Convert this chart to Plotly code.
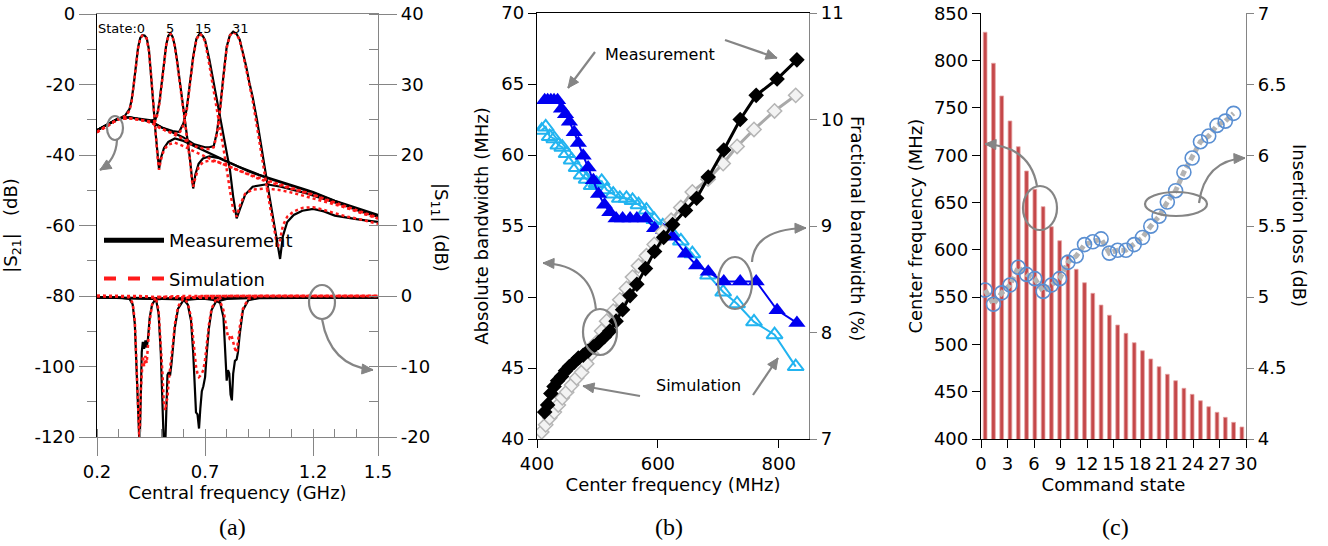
import math
import plotly.graph_objects as go

# ---------------- Panel (a): |S21| (left axis) ----------------
freq_st0 = [0.20,0.25,0.30,0.33,0.35,0.36,0.37,0.38,0.39,0.40,0.41,0.42,0.43,0.44,0.45,0.46,0.47,0.48,0.487,0.495,0.51,0.53,0.56,
            0.60,0.65,0.70,0.75,0.80,0.85,0.90,0.95,1.00,1.05,1.10,1.15,1.20,1.25,1.30,1.35,1.40,1.45,1.50]
s21_meas_st0 = [-33.0,-31.4,-29.6,-28.8,-27.0,-24.5,-20.0,-14.5,-9.5,-6.8,-6.0,-6.1,-6.8,-10.0,-16.5,-25.0,-33.0,-40.0,-44.0,-41.0,-38.0,-36.3,-35.3,
                -36.0,-37.5,-39.0,-40.3,-41.8,-43.2,-44.5,-45.6,-46.6,-47.5,-48.5,-49.5,-50.5,-51.8,-53.0,-54.0,-55.0,-56.0,-57.0]
s21_sim_st0 = [-33.5,-31.6,-29.8,-29.0,-27.5,-25.0,-20.5,-15.0,-9.8,-7.0,-6.1,-6.2,-7.0,-10.5,-17.0,-25.5,-33.5,-40.5,-44.2,-41.5,-38.5,-37.0,-36.5,
               -37.5,-39.0,-40.5,-41.8,-43.0,-44.3,-45.4,-46.5,-47.4,-48.3,-49.2,-50.2,-51.2,-52.4,-53.5,-54.5,-55.6,-56.6,-57.8]

freq_st5 = [0.20,0.25,0.30,0.35,0.40,0.45,
            0.47,0.48,0.49,0.50,0.51,0.52,0.53,0.54,0.55,0.56,0.57,0.58,0.59,0.60,0.61,0.62,0.63,0.64,
            0.645,0.655,0.67,0.69,0.72,0.76,
            0.80,0.85,0.90,0.95,1.00,1.05,1.10,1.15,1.20,1.25,1.30,1.35,1.40,1.45,1.50]
s21_meas_st5 = [-33.0,-31.4,-29.6,-29.3,-29.8,-30.2,
                -30.0,-28.0,-24.5,-19.0,-13.0,-8.8,-6.2,-5.5,-6.5,-9.0,-13.0,-17.5,-21.5,-26.0,-30.5,-35.5,-41.0,-47.0,
                -49.5,-45.5,-42.5,-41.0,-40.4,-40.8,
                -41.8,-43.2,-44.6,-45.8,-46.8,-47.8,-48.7,-49.7,-50.7,-51.9,-53.1,-54.2,-55.3,-56.3,-57.3]
s21_sim_st5 = [-33.5,-31.6,-29.8,-29.6,-30.0,-30.5,
               -30.3,-28.5,-25.0,-19.5,-13.5,-9.0,-6.3,-5.6,-6.6,-9.2,-13.5,-18.0,-22.0,-26.5,-31.0,-36.0,-41.5,-47.5,
               -49.0,-46.5,-43.5,-42.0,-41.6,-42.0,
               -43.0,-44.4,-45.6,-46.8,-47.8,-48.7,-49.5,-50.4,-51.4,-52.6,-53.8,-54.9,-56.0,-57.0,-58.0]

freq_st15 = [0.20,0.25,0.30,0.35,0.40,0.45,0.50,0.55,0.58,0.60,0.615,0.63,0.645,0.66,0.676,0.69,0.70,0.72,0.745,0.77,0.79,0.815,0.83,0.846,
             0.86,0.885,0.92,0.985,1.05,1.11,1.17,1.23,1.29,1.35,1.42,1.50]
s21_meas_st15 = [-33.0,-31.4,-29.6,-29.3,-29.8,-30.5,-32.2,-33.2,-33.5,-31.0,-27.0,-19.7,-12.1,-7.0,-5.5,-6.3,-7.4,-13.0,-21.0,-29.1,-35.5,-44.2,-51.8,-58.0,
                 -55.6,-51.3,-49.0,-48.3,-49.0,-49.9,-50.9,-52.1,-53.2,-54.4,-56.0,-57.5]
s21_sim_st15 = [-33.5,-31.6,-29.8,-29.6,-30.0,-30.8,-32.6,-33.8,-34.0,-31.5,-27.5,-20.0,-12.5,-7.2,-5.6,-6.5,-7.8,-14.5,-23.5,-32.0,-40.0,-50.0,-55.5,-57.5,
                -54.5,-51.0,-49.8,-49.5,-50.0,-50.8,-51.8,-52.8,-53.8,-54.9,-56.3,-58.0]

freq_st31 = [0.20,0.25,0.30,0.35,0.40,0.45,0.50,0.55,0.60,0.65,0.70,
             0.72,0.74,0.755,0.77,0.785,0.80,0.815,0.83,0.845,0.86,0.875,0.89,0.905,0.92,0.94,0.96,0.98,1.00,1.02,1.035,1.047,
             1.06,1.08,1.11,1.15,1.20,1.25,1.30,1.35,1.40,1.45,1.50]
s21_meas_st31 = [-33.0,-31.4,-29.6,-29.3,-29.8,-30.5,-32.2,-33.5,-35.0,-37.0,-37.8,
                 -37.8,-37.5,-33.5,-26.5,-17.5,-9.3,-6.0,-5.0,-5.6,-7.2,-11.0,-14.8,-19.5,-23.5,-30.0,-37.0,-45.0,-52.5,-60.0,-65.5,-69.5,
                 -63.0,-59.0,-57.0,-55.8,-55.3,-56.0,-57.2,-57.8,-58.2,-58.6,-59.0]
s21_sim_st31 = [-33.5,-31.6,-29.8,-29.6,-30.0,-30.8,-32.6,-34.0,-35.5,-37.5,-38.3,
                -38.3,-37.8,-34.0,-27.0,-18.0,-9.6,-6.1,-5.1,-5.7,-7.4,-11.3,-15.2,-20.0,-24.5,-32.0,-40.0,-48.0,-54.5,-61.0,-66.3,-64.0,
                -60.0,-57.5,-56.0,-55.0,-54.8,-55.6,-56.6,-57.4,-58.0,-58.8,-59.5]

# ---------------- Panel (a): |S11| (right axis) ----------------
s11_freq_st0 = [0.20,0.30,0.35,0.365,0.375,0.385,0.392,0.397,0.402,0.407,0.412,0.418,0.424,0.430,0.436,0.444,0.455,0.47,0.50,0.60,0.80,1.00,1.20,1.50]
s11_meas_st0 = [-0.2,-0.2,-0.4,-1.2,-4.0,-11.0,-18.0,-21.5,-15.0,-8.0,-6.5,-7.5,-6.3,-7.3,-6.0,-3.0,-1.2,-0.5,-0.4,-0.3,-0.2,-0.2,-0.2,-0.2]
s11_sim_st0 = [0.0,0.0,-0.2,-1.0,-3.5,-10.5,-17.5,-21.0,-14.0,-10.0,-8.5,-10.0,-8.5,-9.5,-7.0,-3.5,-1.2,-0.3,-0.1,0.0,0.0,0.0,0.0,0.0]

s11_freq_st5 = [0.20,0.40,0.46,0.475,0.485,0.495,0.503,0.509,0.516,0.521,0.526,0.532,0.538,0.545,0.552,0.56,0.575,0.60,0.70,1.00,1.50]
s11_meas_st5 = [-0.2,-0.3,-0.4,-0.8,-2.5,-8.0,-16.0,-21.0,-21.0,-14.0,-11.2,-10.8,-11.3,-9.5,-7.0,-4.5,-1.8,-0.6,-0.3,-0.2,-0.2]
s11_sim_st5 = [0.0,0.0,-0.2,-0.6,-2.0,-6.5,-11.0,-15.0,-16.2,-15.0,-14.5,-12.0,-10.5,-9.0,-6.5,-4.0,-1.5,-0.3,0.0,0.0,0.0]

s11_freq_st15 = [0.20,0.55,0.60,0.62,0.635,0.645,0.652,0.658,0.665,0.672,0.678,0.685,0.692,0.70,0.708,0.718,0.73,0.75,0.80,1.00,1.50]
s11_meas_st15 = [-0.2,-0.4,-0.5,-1.2,-3.5,-8.0,-12.5,-16.5,-16.8,-18.8,-16.0,-13.5,-12.8,-11.5,-8.0,-4.5,-2.0,-0.8,-0.4,-0.2,-0.2]
s11_sim_st15 = [0.0,-0.1,-0.2,-1.0,-3.0,-6.0,-8.5,-10.0,-11.0,-11.5,-11.3,-11.0,-10.5,-9.0,-6.8,-4.0,-1.8,-0.5,0.0,0.0,0.0]

s11_freq_st31 = [0.20,0.70,0.75,0.77,0.785,0.793,0.80,0.806,0.812,0.818,0.824,0.830,0.838,0.846,0.852,0.86,0.875,0.90,0.95,1.50]
s11_meas_st31 = [-0.2,-0.4,-0.6,-1.0,-3.0,-7.0,-12.0,-10.5,-11.0,-14.0,-14.8,-11.0,-9.2,-9.0,-8.0,-5.5,-2.0,-0.6,-0.3,-0.2]
s11_sim_st31 = [0.0,-0.2,-0.3,-0.8,-2.0,-3.5,-5.0,-5.8,-6.0,-5.5,-5.8,-6.5,-7.5,-8.0,-6.5,-4.5,-1.8,-0.4,0.0,0.0]

state_labels = ["State:0", "5", "15", "31"]
a_xtick_vals = [0.2, 0.7, 1.2, 1.5]
a_ytick_vals = [-120, -100, -80, -60, -40, -20, 0]
a_y2tick_vals = [-20, -10, 0, 10, 20, 30, 40]

# ---------------- Panel (b) and (c) data ----------------
command_state = [0,1,2,3,4,5,6,7,8,9,10,11,12,13,14,15,16,17,18,19,20,21,22,23,24,25,26,27,28,29,30,31]
center_freq = [830.0,797.2,762.6,736.2,709.0,683.3,664.0,645.6,624.4,609.6,594.5,579.4,565.2,554.0,541.6,530.8,
               520.5,511.7,501.8,493.3,484.6,476.4,468.4,461.6,453.6,447.2,440.5,434.1,428.2,422.9,417.6,412.7]
abs_bw_meas = [66.7,65.35,64.2,62.5,60.35,58.45,56.95,56.1,55.1,54.2,53.2,52.0,50.9,50.1,49.1,48.3,
               47.6,47.2,46.8,46.5,46.2,45.9,45.7,45.4,45.1,44.8,44.4,44.1,43.7,43.2,42.4,41.9]
frac_bw_meas = [8.09,8.21,8.48,8.48,8.48,8.57,8.63,8.74,8.90,8.96,8.98,9.07,9.07,9.07,9.07,9.07,
                9.13,9.20,9.30,9.43,9.55,9.66,9.78,9.88,9.98,10.05,10.10,10.18,10.18,10.18,10.18,10.18]

sim_freq = [407.8,414.4,421.0,428.6,435.2,441.8,449.0,457.3,465.6,473.9,482.1,490.4,498.5,507.0,515.2,526.1,
            537.0,548.0,558.0,568.0,581.0,594.0,608.0,622.0,638.0,657.0,683.0,708.0,731.0,759.0,793.0,828.0]
abs_bw_sim = [40.5,41.0,41.5,41.9,42.4,42.9,43.3,43.8,44.3,44.7,45.3,46.0,46.8,47.6,48.3,49.0,
              49.8,50.6,51.4,52.2,52.9,53.7,54.6,55.4,56.3,57.4,58.3,59.4,60.6,61.8,63.1,64.2]
frac_bw_sim = [9.90,9.93,9.84,9.82,9.76,9.74,9.68,9.62,9.55,9.48,9.44,9.38,9.40,9.42,9.34,9.30,
               9.26,9.26,9.24,9.20,9.15,9.06,9.00,8.94,8.86,8.74,8.54,8.38,8.27,8.10,7.98,7.68]

il_state = [0,1,2,3,4,5,6,7,8,9,10,11,12,13,14,15,16,17,18,19,20,21,22,23,24,25,26,27,28,29,30]
insertion_loss = [5.05,4.95,5.03,5.085,5.21,5.16,5.13,5.04,5.085,5.13,5.245,5.29,5.37,5.39,5.41,5.31,
                  5.33,5.33,5.37,5.42,5.50,5.57,5.67,5.75,5.88,5.98,6.095,6.135,6.21,6.24,6.295]
c_xtick_labels = [0, 3, 6, 9, 12, 15, 18, 21, 24, 27, 30]

# ---------------- figure ----------------
W, H = 1328, 546
def px(v): return v / W
def py(v): return 1 - v / H

FAM = "DejaVu Sans"
TF = dict(family=FAM, size=18, color="black")
GRAY = "#858585"
RED = "#ff1a1a"

fig = go.Figure()

s21_sets = [(freq_st0, s21_meas_st0, s21_sim_st0), (freq_st5, s21_meas_st5, s21_sim_st5),
            (freq_st15, s21_meas_st15, s21_sim_st15), (freq_st31, s21_meas_st31, s21_sim_st31)]
s11_sets = [(s11_freq_st0, s11_meas_st0, s11_sim_st0), (s11_freq_st5, s11_meas_st5, s11_sim_st5),
            (s11_freq_st15, s11_meas_st15, s11_sim_st15), (s11_freq_st31, s11_meas_st31, s11_sim_st31)]

for fx, meas, _ in s21_sets:
    fig.add_trace(go.Scatter(x=fx, y=meas, mode="lines", line=dict(color="black", width=2.2),
                             xaxis="x", yaxis="y", showlegend=False, hoverinfo="skip"))
for fx, _, sim in s21_sets:
    fig.add_trace(go.Scatter(x=fx, y=sim, mode="lines", line=dict(color=RED, width=2.5, dash="dot"),
                             xaxis="x", yaxis="y", showlegend=False, hoverinfo="skip"))
for fx, meas, _ in s11_sets:
    fig.add_trace(go.Scatter(x=fx, y=meas, mode="lines", line=dict(color="black", width=2.2),
                             xaxis="x", yaxis="y2", showlegend=False, hoverinfo="skip"))
for fx, _, sim in s11_sets:
    fig.add_trace(go.Scatter(x=fx, y=sim, mode="lines", line=dict(color=RED, width=2.5, dash="dot"),
                             xaxis="x", yaxis="y2", showlegend=False, hoverinfo="skip"))

# legend entries (panel a)
fig.add_trace(go.Scatter(x=[None], y=[None], mode="lines", name="Measurement", legendgroup="m",
                         line=dict(color="black", width=5), xaxis="x", yaxis="y"))
fig.add_trace(go.Scatter(x=[None], y=[None], mode="lines", name="Simulation", legendgroup="s",
                         line=dict(color=RED, width=4, dash="dash"), xaxis="x", yaxis="y"))

# panel b : fractional bandwidth on base axis (right side), absolute on overlay (left side)
fig.add_trace(go.Scatter(x=sim_freq, y=frac_bw_sim, mode="lines+markers", xaxis="x3", yaxis="y3",
                         line=dict(color="#22b4f0", width=2),
                         marker=dict(symbol="triangle-up-open", size=14, color="#22b4f0", line=dict(width=2)),
                         showlegend=False, hoverinfo="skip"))
fig.add_trace(go.Scatter(x=center_freq, y=frac_bw_meas, mode="lines+markers", xaxis="x3", yaxis="y3",
                         line=dict(color="#0000f0", width=2),
                         marker=dict(symbol="triangle-up", size=15, color="#0000f0"),
                         showlegend=False, hoverinfo="skip"))
fig.add_trace(go.Scatter(x=sim_freq, y=abs_bw_sim, mode="lines+markers", xaxis="x3", yaxis="y4",
                         line=dict(color="#a9a9a9", width=3),
                         marker=dict(symbol="diamond", size=11, color="#f3f3f3", line=dict(color="#b5b5b5", width=1.5)),
                         showlegend=False, hoverinfo="skip"))
fig.add_trace(go.Scatter(x=center_freq, y=abs_bw_meas, mode="lines+markers", xaxis="x3", yaxis="y4",
                         line=dict(color="black", width=3),
                         marker=dict(symbol="diamond", size=12, color="black"),
                         showlegend=False, hoverinfo="skip"))

# panel c
fig.add_trace(go.Bar(x=command_state, y=center_freq, xaxis="x5", yaxis="y5", width=0.45,
                     marker=dict(color="#c5484a", line=dict(color="#e6a5a5", width=0.8)),
                     showlegend=False, hoverinfo="skip"))
fig.add_trace(go.Scatter(x=il_state, y=insertion_loss, mode="lines+markers", xaxis="x5", yaxis="y6",
                         line=dict(color="#b3b3b3", width=5, dash="6px,3px"),
                         marker=dict(symbol="circle-open", size=14, color="#5a8fd2", line=dict(width=1.6)),
                         showlegend=False, hoverinfo="skip"))

def fmt(v):
    return "%g" % v

c_tick_pos = [-0.5 + t * 32 / 30 for t in c_xtick_labels]

common = dict(showgrid=False, zeroline=False, tickfont=TF, tickwidth=1.2, linewidth=1.3, automargin=False)

fig.update_layout(
    width=W, height=H, margin=dict(l=0, r=0, t=0, b=0, autoexpand=False),
    paper_bgcolor="white", plot_bgcolor="rgba(0,0,0,0)",
    font=dict(family=FAM, size=18, color="black"),
    showlegend=True,
    legend=dict(x=px(99), y=py(222), xanchor="left", yanchor="top", bgcolor="rgba(0,0,0,0)",
                font=dict(family=FAM, size=18), traceorder="grouped", tracegroupgap=12, itemwidth=60),
    bargap=0.5,
    # ---- panel a ----
    xaxis=dict(domain=[px(97), px(378)], anchor="y", range=[0.2, 1.5],
               tickmode="array", tickvals=a_xtick_vals, ticktext=[fmt(v) for v in a_xtick_vals],
               ticks="outside", ticklen=18, tickcolor=GRAY, showline=True, linecolor=GRAY, mirror=True,
               minor=dict(tickmode="linear", tick0=0.2, dtick=0.1, ticks="inside", ticklen=8, tickcolor=GRAY, tickwidth=1.2),
               title=dict(text="Central frequency (GHz)", font=TF, standoff=2), **common),
    yaxis=dict(domain=[py(437), py(14)], anchor="x", range=[-120, 0],
               tickmode="array", tickvals=a_ytick_vals, ticktext=[fmt(v) for v in a_ytick_vals],
               ticks="outside", ticklen=17, tickcolor=GRAY, showline=True, linecolor="black",
               minor=dict(tickmode="linear", tick0=-120, dtick=10, ticks="outside", ticklen=9, tickcolor=GRAY, tickwidth=1.2),
               title=dict(text="|S<sub>21</sub>|   (dB)", font=TF, standoff=12), **common),
    yaxis2=dict(overlaying="y", anchor="x", side="right", range=[-20, 40],
                tickmode="array", tickvals=a_y2tick_vals, ticktext=[fmt(v) for v in a_y2tick_vals],
                ticks="outside", ticklen=18, tickcolor=GRAY, showline=True, linecolor=GRAY,
                minor=dict(tickmode="linear", tick0=-20, dtick=5, ticks="inside", ticklen=9, tickcolor=GRAY, tickwidth=1.2),
                **common),
    # ---- panel b ----
    xaxis3=dict(domain=[px(537), px(809)], anchor="y3", range=[400, 850],
                tickmode="array", tickvals=[400, 600, 800], ticks="outside", ticklen=8, tickcolor="black",
                showline=True, linecolor="black", mirror=True,
                title=dict(text="Center frequency (MHz)", font=TF, standoff=2), **common),
    yaxis3=dict(domain=[py(439), py(13)], anchor="x3", side="right", range=[7, 11],
                tickmode="array", tickvals=[7, 8, 9, 10, 11], ticks="outside", ticklen=7, tickcolor=GRAY,
                showline=True, linecolor=GRAY, **common),
    yaxis4=dict(overlaying="y3", anchor="x3", side="left", range=[40, 70],
                tickmode="array", tickvals=[40, 45, 50, 55, 60, 65, 70], ticks="outside", ticklen=8, tickcolor="black",
                showline=True, linecolor="black",
                title=dict(text="Absolute bandwidth (MHz)", font=TF, standoff=8), **common),
    # ---- panel c ----
    xaxis5=dict(domain=[px(981), px(1246)], anchor="y5", range=[-0.5, 31.5],
                tickmode="array", tickvals=c_tick_pos, ticktext=[str(t) for t in c_xtick_labels],
                ticks="outside", ticklen=8, tickcolor="black", showline=True, linecolor="black",
                title=dict(text="Command state", font=TF, standoff=0), **common),
    yaxis5=dict(domain=[py(439), py(13.3)], anchor="x5", range=[400, 850],
                tickmode="array", tickvals=[400, 450, 500, 550, 600, 650, 700, 750, 800, 850],
                ticks="outside", ticklen=8, tickcolor="black", showline=True, linecolor="black",
                title=dict(text="Center frequency (MHz)", font=TF, standoff=6), **common),
    yaxis6=dict(overlaying="y5", anchor="x5", side="right", range=[4, 7],
                tickmode="array", tickvals=[4, 4.5, 5, 5.5, 6, 6.5, 7], ticktext=["4", "4.5", "5", "5.5", "6", "6.5", "7"],
                ticks="outside", ticklen=7, tickcolor=GRAY, showline=True, linecolor=GRAY, **common),
)

ann = []
# right-side axis titles (reading top to bottom)
for txt, x, y in [("|S<sub>11</sub>|  (dB)", 440, 227), ("Fractional bandwidth (%)", 858, 228),
                  ("Insertion loss (dB)", 1300, 225)]:
    ann.append(dict(text=txt, x=px(x), y=py(y), xref="paper", yref="paper", showarrow=False,
                    textangle=90, font=TF, xanchor="center", yanchor="middle"))
# panel labels
for txt, x in [("(a)", 233), ("(b)", 669), ("(c)", 1115)]:
    ann.append(dict(text=txt, x=px(x), y=py(527), xref="paper", yref="paper", showarrow=False,
                    xanchor="center", yanchor="middle",
                    font=dict(family="Liberation Serif", size=24, color="black")))
# state labels in (a)
for txt, x in zip(state_labels, [121, 170, 203, 240]):
    ann.append(dict(text=txt, x=px(x), y=py(28), xref="paper", yref="paper", showarrow=False,
                    xanchor="center", yanchor="middle",
                    font=dict(family=FAM, size=13, color="black")))
# text labels in (b)
ann.append(dict(text="Measurement", x=px(660), y=py(43), xref="paper", yref="paper", showarrow=False,
                font=dict(family=FAM, size=16, color="black")))
ann.append(dict(text="Simulation", x=px(698), y=py(397), xref="paper", yref="paper", showarrow=False,
                font=dict(family=FAM, size=16, color="black")))
fig.update_layout(annotations=ann)

# ---- decorative loops and arrows (pixel geometry converted to paper coords) ----
def P(x, y):
    return "%f %f" % (px(x), py(y))

def head(tip, frm, size=11, half=5):
    dx, dy = tip[0] - frm[0], tip[1] - frm[1]
    L = math.hypot(dx, dy)
    ux, uy = dx / L, dy / L
    bx, by = tip[0] - ux * size, tip[1] - uy * size
    lx, ly = bx - uy * half, by + ux * half
    rx, ry = bx + uy * half, by - ux * half
    return dict(type="path", xref="paper", yref="paper",
                path="M %s L %s L %s Z" % (P(*tip), P(lx, ly), P(rx, ry)),
                fillcolor=GRAY, line=dict(color=GRAY, width=1))

shapes = []
for cx, cy, rx, ry in [(115, 128, 8, 12), (322, 302, 13, 17), (600, 332, 17, 23), (735, 283, 17, 26),
                       (1040, 208, 17, 22), (1176, 204, 31, 12)]:
    shapes.append(dict(type="circle", xref="paper", yref="paper", x0=px(cx - rx), x1=px(cx + rx),
                       y0=py(cy + ry), y1=py(cy - ry), line=dict(color=GRAY, width=2.2)))
# curved arrows: start, control, tip
for p0, c, tip in [((117, 140), (116, 160), (100, 170)), ((322, 319), (330, 366), (373, 370)),
                   ((596, 310), (592, 265), (543, 263)), ((752, 262), (754, 229), (806, 228)),
                   ((1037, 186), (1030, 146), (985, 144)), ((1199, 203), (1205, 160), (1245, 158))]:
    shapes.append(dict(type="path", xref="paper", yref="paper",
                       path="M %s Q %s %s" % (P(*p0), P(*c), P(*tip)), line=dict(color=GRAY, width=2.2)))
    shapes.append(head(tip, c))
# straight arrows: tail, tip
for tail, tip in [((595, 52), (568, 88)), ((725, 40), (777, 58)), ((640, 396), (583, 386)), ((753, 395), (778, 358))]:
    shapes.append(dict(type="path", xref="paper", yref="paper",
                       path="M %s L %s" % (P(*tail), P(*tip)), line=dict(color=GRAY, width=2.2)))
    shapes.append(head(tip, tail))
fig.update_layout(shapes=shapes)

fig.write_html("out.html", config={"displayModeBar": False},
               post_script="document.body.style.margin='0px';document.body.style.padding='0px';"
                           "document.body.style.overflow='hidden';")
